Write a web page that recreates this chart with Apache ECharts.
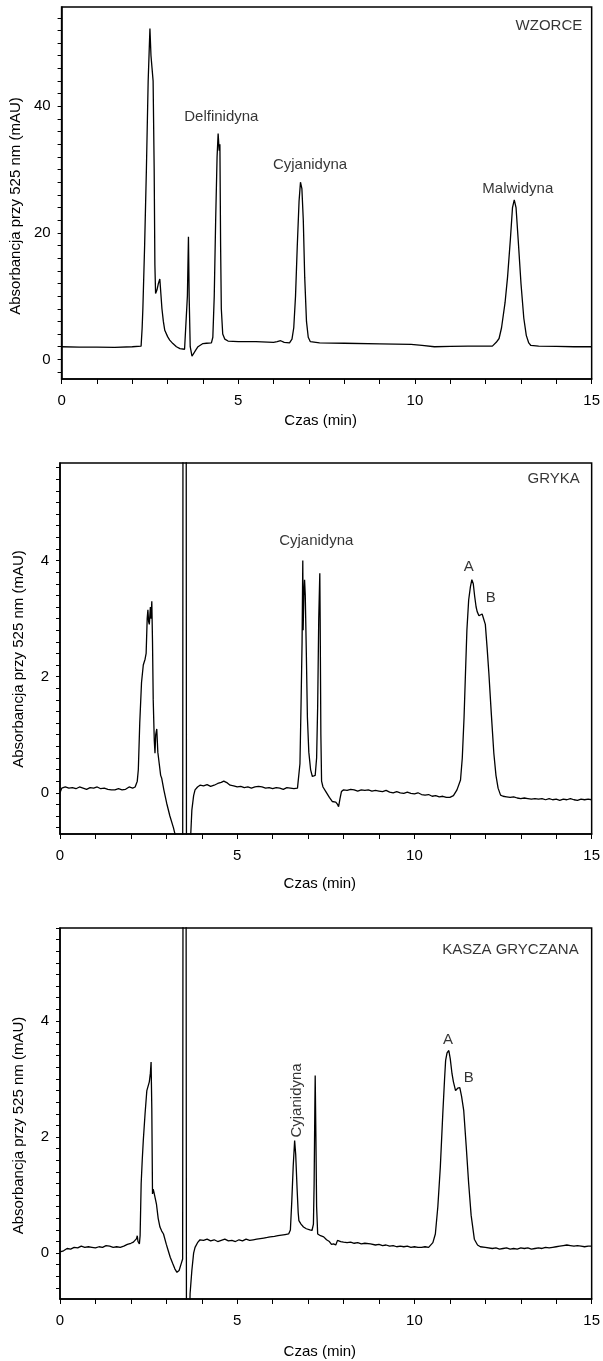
<!DOCTYPE html>
<html>
<head>
<meta charset="utf-8">
<script src="https://cdn.jsdelivr.net/npm/echarts@6/dist/echarts.min.js"></script>
<style>
html,body{margin:0;padding:0;background:#fff;}
#chart{width:603px;height:1361px;}
</style>
</head>
<body>
<div id="chart"></div>
<script>
// ---- DATA (time in min, absorbance in mAU) ----
const wzorceData = [[0,2.0],[0.5,1.95],[1.0,1.95],[1.5,1.9],[2.0,2.0],[2.25,2.1],[2.28,5],[2.3,8],[2.35,18],[2.4,30],[2.45,44],[2.5,52.3],[2.53,48],[2.56,46],[2.59,44],[2.62,30],[2.64,15],[2.66,10.4],[2.7,11],[2.74,12],[2.78,12.7],[2.81,12.4],[2.84,8],[2.88,6],[2.92,4.6],[3.0,3.6],[3.06,3.05],[3.15,2.5],[3.25,2.0],[3.35,1.7],[3.48,1.6],[3.52,1.8],[3.56,10],[3.59,19.4],[3.61,10],[3.64,2],[3.69,0.5],[3.74,0.8],[3.8,1.5],[3.86,2.0],[3.91,2.3],[4.0,2.5],[4.1,2.55],[4.24,2.6],[4.28,3.5],[4.32,10],[4.36,22],[4.4,32],[4.43,35.7],[4.46,33],[4.48,34],[4.5,18],[4.52,8],[4.56,4],[4.62,3.2],[4.71,2.9],[5.0,2.8],[5.5,2.8],[6.0,2.7],[6.1,2.8],[6.2,2.95],[6.3,2.7],[6.45,2.6],[6.52,3.2],[6.57,5],[6.62,10],[6.67,18],[6.72,25],[6.76,28],[6.78,28.2],[6.8,27],[6.84,22],[6.88,13],[6.93,6],[6.98,3.5],[7.04,2.8],[7.3,2.6],[8,2.55],[9,2.45],[9.89,2.37],[10.2,2.2],[10.55,2.0],[11,2.05],[11.5,2.1],[12.19,2.1],[12.3,2.7],[12.38,3.3],[12.45,5],[12.55,9],[12.62,13],[12.7,19],[12.76,24],[12.81,25.2],[12.86,24],[12.92,19],[13.0,12],[13.08,6.5],[13.15,3.8],[13.22,2.6],[13.28,2.2],[13.5,2.1],[14,2.05],[14.5,2.0],[15,2.0]];

const grykaData = [[0,0.0],[0.05,0.08],[0.15,0.1],[0.25,0.08],[0.35,0.09],[0.45,0.07],[0.55,0.1],[0.65,0.08],[0.75,0.06],[0.85,0.09],[0.95,0.08],[1.05,0.1],[1.15,0.07],[1.25,0.08],[1.35,0.06],[1.45,0.05],[1.55,0.05],[1.65,0.07],[1.75,0.05],[1.85,0.06],[1.95,0.1],[2.05,0.08],[2.12,0.1],[2.18,0.2],[2.21,0.4],[2.25,1.2],[2.3,1.9],[2.35,2.2],[2.4,2.3],[2.43,2.4],[2.46,3.0],[2.48,3.15],[2.5,2.95],[2.52,2.9],[2.55,3.2],[2.57,3.0],[2.59,3.3],[2.61,2.6],[2.63,1.6],[2.66,0.9],[2.68,0.68],[2.7,1.0],[2.73,1.1],[2.76,0.7],[2.8,0.5],[2.84,0.3],[2.87,0.25],[2.93,0.05],[3.01,-0.18],[3.1,-0.4],[3.2,-0.6],[3.3,-0.85],[3.4,-1.5],[3.46,-3],[3.475,12],[3.555,12],[3.57,-3],[3.65,-2],[3.69,-0.7],[3.72,-0.3],[3.77,-0.05],[3.81,0.05],[3.88,0.1],[3.95,0.13],[4.05,0.12],[4.15,0.14],[4.25,0.11],[4.35,0.13],[4.45,0.16],[4.55,0.18],[4.62,0.2],[4.66,0.23],[4.72,0.17],[4.8,0.13],[4.9,0.12],[5.0,0.1],[5.1,0.11],[5.2,0.09],[5.3,0.1],[5.4,0.08],[5.5,0.1],[5.6,0.11],[5.65,0.14],[5.7,0.1],[5.8,0.08],[5.9,0.09],[6.0,0.07],[6.1,0.09],[6.2,0.08],[6.3,0.06],[6.4,0.09],[6.5,0.08],[6.6,0.07],[6.7,0.08],[6.74,0.1],[6.77,0.5],[6.8,1.5],[6.83,2.6],[6.85,4.0],[6.86,2.8],[6.88,3.4],[6.9,3.67],[6.92,3.4],[6.95,2.4],[6.98,1.3],[7.02,0.7],[7.07,0.4],[7.12,0.28],[7.16,0.25],[7.2,0.3],[7.24,0.6],[7.27,1.5],[7.3,3.0],[7.33,3.78],[7.34,3.0],[7.36,1.0],[7.38,0.2],[7.42,0.1],[7.5,0.02],[7.6,-0.08],[7.68,-0.15],[7.72,-0.18],[7.78,-0.16],[7.83,-0.2],[7.86,-0.24],[7.9,-0.1],[7.94,0.02],[8.0,0.05],[8.1,0.04],[8.2,0.06],[8.3,0.05],[8.4,0.03],[8.5,0.05],[8.6,0.04],[8.7,0.05],[8.8,0.03],[8.9,0.04],[9.0,0.03],[9.1,0.02],[9.2,0.04],[9.3,0.01],[9.4,0.0],[9.5,0.02],[9.6,0.0],[9.7,-0.01],[9.8,0.01],[9.9,-0.01],[10.0,-0.02],[10.1,0.0],[10.2,-0.03],[10.3,-0.04],[10.4,-0.03],[10.5,-0.06],[10.6,-0.05],[10.7,-0.07],[10.8,-0.06],[10.9,-0.08],[11.0,-0.08],[11.05,-0.07],[11.1,-0.05],[11.2,0.05],[11.3,0.22],[11.35,0.6],[11.4,1.3],[11.44,2.06],[11.48,2.8],[11.53,3.32],[11.58,3.55],[11.62,3.67],[11.66,3.6],[11.7,3.38],[11.74,3.2],[11.77,3.12],[11.82,3.05],[11.86,3.02],[11.91,3.08],[11.96,3.08],[12.0,2.9],[12.05,2.5],[12.1,2.06],[12.17,1.35],[12.24,0.68],[12.3,0.3],[12.36,0.08],[12.43,-0.04],[12.5,-0.06],[12.6,-0.07],[12.7,-0.08],[12.8,-0.07],[12.9,-0.09],[13.0,-0.1],[13.1,-0.09],[13.2,-0.1],[13.3,-0.11],[13.4,-0.1],[13.5,-0.11],[13.6,-0.1],[13.7,-0.12],[13.8,-0.1],[13.9,-0.12],[14.0,-0.11],[14.1,-0.13],[14.2,-0.11],[14.3,-0.12],[14.4,-0.1],[14.5,-0.12],[14.6,-0.13],[14.7,-0.11],[14.8,-0.12],[14.9,-0.11],[15.0,-0.12]];

const kaszaData = [[0,0.02],[0.05,0.05],[0.1,0.04],[0.2,0.08],[0.3,0.07],[0.4,0.1],[0.5,0.09],[0.6,0.12],[0.7,0.1],[0.8,0.11],[0.9,0.1],[1.0,0.09],[1.1,0.11],[1.2,0.1],[1.3,0.13],[1.35,0.15],[1.4,0.12],[1.5,0.1],[1.6,0.11],[1.7,0.1],[1.8,0.12],[1.9,0.15],[2.0,0.17],[2.07,0.19],[2.12,0.18],[2.16,0.25],[2.18,0.3],[2.2,0.2],[2.24,0.16],[2.26,0.3],[2.29,1.2],[2.32,1.6],[2.35,1.94],[2.4,2.4],[2.45,2.8],[2.52,2.95],[2.55,3.1],[2.57,3.29],[2.59,2.5],[2.61,1.02],[2.63,1.1],[2.65,1.05],[2.68,1.08],[2.72,0.85],[2.77,0.6],[2.82,0.45],[2.87,0.38],[2.92,0.33],[3.0,0.15],[3.05,0.05],[3.11,-0.07],[3.18,-0.18],[3.24,-0.27],[3.3,-0.33],[3.36,-0.3],[3.42,-0.18],[3.46,-0.1],[3.48,12],[3.55,12],[3.57,-3],[3.63,-2],[3.67,-0.7],[3.72,-0.3],[3.77,0.0],[3.81,0.1],[3.88,0.18],[3.95,0.23],[4.05,0.22],[4.15,0.24],[4.25,0.21],[4.35,0.23],[4.45,0.2],[4.55,0.22],[4.65,0.24],[4.75,0.21],[4.85,0.22],[4.95,0.2],[5.05,0.23],[5.15,0.21],[5.25,0.24],[5.35,0.22],[5.45,0.23],[5.55,0.24],[5.65,0.25],[5.75,0.26],[5.85,0.27],[5.93,0.28],[6.05,0.29],[6.15,0.3],[6.25,0.31],[6.35,0.32],[6.45,0.33],[6.5,0.4],[6.54,0.9],[6.58,1.5],[6.62,1.94],[6.65,1.7],[6.69,1.1],[6.72,0.7],[6.74,0.56],[6.8,0.5],[6.87,0.45],[6.95,0.42],[7.05,0.4],[7.11,0.39],[7.15,0.5],[7.17,1.2],[7.19,2.5],[7.2,3.06],[7.22,2.0],[7.24,0.8],[7.27,0.33],[7.35,0.3],[7.44,0.28],[7.52,0.23],[7.6,0.2],[7.66,0.15],[7.72,0.16],[7.78,0.14],[7.83,0.22],[7.86,0.23],[7.92,0.2],[8.0,0.19],[8.1,0.18],[8.2,0.19],[8.3,0.17],[8.4,0.18],[8.5,0.16],[8.6,0.17],[8.76,0.16],[8.9,0.14],[9.0,0.15],[9.1,0.13],[9.2,0.14],[9.3,0.12],[9.4,0.13],[9.5,0.11],[9.6,0.12],[9.7,0.11],[9.8,0.12],[9.9,0.1],[10.0,0.11],[10.1,0.1],[10.2,0.1],[10.3,0.11],[10.4,0.1],[10.45,0.1],[10.52,0.18],[10.59,0.33],[10.66,0.8],[10.73,1.48],[10.8,2.4],[10.85,3.0],[10.88,3.32],[10.92,3.45],[10.97,3.49],[11.01,3.35],[11.06,3.09],[11.1,2.95],[11.16,2.8],[11.22,2.84],[11.28,2.85],[11.33,2.7],[11.39,2.46],[11.46,1.85],[11.53,1.2],[11.6,0.65],[11.69,0.24],[11.78,0.14],[11.86,0.11],[12.0,0.1],[12.2,0.08],[12.3,0.09],[12.4,0.07],[12.5,0.08],[12.6,0.09],[12.7,0.07],[12.8,0.08],[12.9,0.07],[13.0,0.09],[13.1,0.08],[13.2,0.09],[13.3,0.07],[13.4,0.08],[13.5,0.09],[13.6,0.08],[13.7,0.1],[13.8,0.09],[13.9,0.1],[14.0,0.11],[14.1,0.12],[14.2,0.13],[14.3,0.14],[14.4,0.13],[14.5,0.12],[14.6,0.13],[14.7,0.12],[14.8,0.11],[14.9,0.12],[15.0,0.12]];

// annotations: [time, absorbance, text]
const wzorceNotes = [[13.79,52.7,'WZORCE'],[4.52,38.4,'Delfinidyna'],[7.03,30.7,'Cyjanidyna'],[12.91,27.0,'Malwidyna']];
const grykaNotes = [[13.93,5.41,'GRYKA'],[7.23,4.34,'Cyjanidyna'],[11.53,3.89,'A'],[12.15,3.36,'B']];
const kaszaNotes = [[12.71,5.23,'KASZA GRYCZANA'],[10.95,3.68,'A'],[11.53,3.02,'B']];
const kaszaRotNotes = [[6.67,2.63,'Cyjanidyna']];

// axis ranges and ticks
const xRange = [0, 15];
const xLabels = [0, 5, 10, 15];
const yRanges = [[-3.1, 55.7], [-0.71, 5.68], [-0.79, 5.6]];
const yLabels = [[0, 20, 40], [0, 2, 4], [0, 2, 4]];
const yTickSteps = [2, 0.2, 0.2];
const xTitle = 'Czas (min)';
const yTitle = 'Absorbancja przy 525 nm (mAU)';

function ticks(min, max, step) {
  const out = [];
  const start = Math.ceil(min / step - 1e-9);
  for (let k = start; k * step <= max + 1e-9; k++) out.push(Math.round(k * step * 1000) / 1000);
  return out;
}

const FONT = 'Liberation Sans, Arial, Helvetica, sans-serif';
const tops = [7, 463, 928];
const heights = [372, 371, 371];
const xNameGaps = [34, 42, 45];
const yPads = [26, 21, 24];

const grids = [], xAxes = [], yAxes = [], series = [];
const datasets = [wzorceData, grykaData, kaszaData];
const notes = [wzorceNotes, grykaNotes, kaszaNotes];

for (let i = 0; i < 3; i++) {
  grids.push({left: 60, right: 11, top: tops[i], height: heights[i], show: true,
    borderColor: '#000', borderWidth: 1.5, backgroundColor: 'transparent'});
  xAxes.push({
    type: 'value', gridIndex: i, min: xRange[0], max: xRange[1],
    name: xTitle, nameLocation: 'middle', nameGap: xNameGaps[i],
    nameTextStyle: {color: '#000', fontSize: 15, fontFamily: FONT, padding: [0, 12, 0, 0]},
    axisLine: {show: true, onZero: false, lineStyle: {color: '#000', width: 1.5}},
    axisTick: {show: true, length: 5, lineStyle: {color: '#000', width: 1}, customValues: ticks(0, 15, 1)},
    axisLabel: {show: true, margin: 14, color: '#000', fontSize: 15, fontFamily: FONT, customValues: xLabels},
    splitLine: {show: false}
  });
  const yr = yRanges[i];
  yAxes.push({
    type: 'value', gridIndex: i, min: yr[0], max: yr[1],
    name: yTitle, nameLocation: 'middle', nameGap: 34, nameRotate: 90,
    nameTextStyle: {color: '#000', fontSize: 15, fontFamily: FONT, padding: [0, yPads[i], 0, 0]},
    axisLine: {show: true, onZero: false, lineStyle: {color: '#000', width: 1.5}},
    axisTick: {show: true, length: 4, lineStyle: {color: '#000', width: 1}, customValues: ticks(yr[0], yr[1], yTickSteps[i])},
    axisLabel: {show: true, margin: 11, color: '#000', fontSize: 15, fontFamily: FONT, customValues: yLabels[i]},
    splitLine: {show: false}
  });
  series.push({
    type: 'line', xAxisIndex: i, yAxisIndex: i, data: datasets[i],
    showSymbol: false, symbol: 'none', smooth: false, clip: true, silent: true,
    lineStyle: {color: '#000', width: 1.3}, animation: false
  });
  series.push({
    type: 'scatter', xAxisIndex: i, yAxisIndex: i, data: notes[i],
    symbolSize: 1, itemStyle: {color: 'rgba(0,0,0,0)'}, silent: true, animation: false,
    label: {show: true, position: 'inside', formatter: p => p.data[2], color: '#000', fontSize: 15, fontFamily: FONT}
  });
}
series.push({
  type: 'scatter', xAxisIndex: 2, yAxisIndex: 2, data: kaszaRotNotes,
  symbolSize: 1, itemStyle: {color: 'rgba(0,0,0,0)'}, silent: true, animation: false,
  label: {show: true, position: 'inside', rotate: 90, formatter: p => p.data[2], color: '#000', fontSize: 15, fontFamily: FONT}
});

const chart = echarts.init(document.getElementById('chart'), null, {renderer: 'canvas'});
chart.setOption({
  animation: false,
  backgroundColor: '#fff',
  grid: grids, xAxis: xAxes, yAxis: yAxes, series: series
});
</script>
</body>
</html>
